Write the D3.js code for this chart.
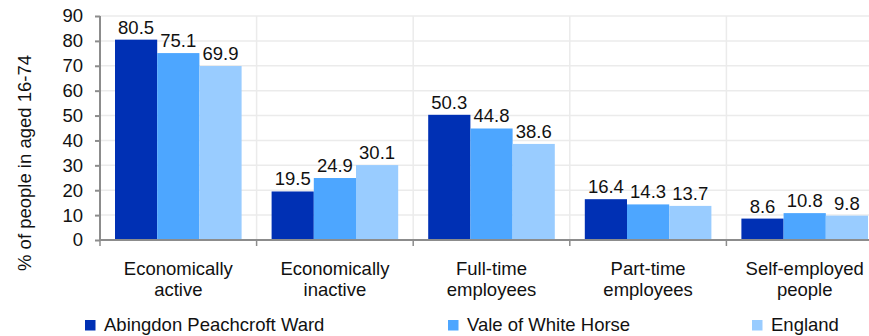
<!DOCTYPE html>
<html><head><meta charset="utf-8">
<script src="https://cdn.jsdelivr.net/npm/d3@7"></script>
<style>body{margin:0;background:#fff}svg{display:block;font-family:"Liberation Sans",Arial,sans-serif}</style>
</head><body><svg id="c" width="869" height="336"></svg>
<script>
const categories = [["Economically","active"],["Economically","inactive"],["Full-time","employees"],["Part-time","employees"],["Self-employed","people"]];
const seriesNames = ["Abingdon Peachcroft Ward","Vale of White Horse","England"];
const abingdon = [80.5,19.5,50.3,16.4,8.6];
const vale = [75.1,24.9,44.8,14.3,10.8];
const england = [69.9,30.1,38.6,13.7,9.8];
const yTicks = [0,10,20,30,40,50,60,70,80,90];
const colors = ["#0030b4","#4da6ff","#99ccff"];
const yTitle = "% of people in aged 16-74";

const svg = d3.select("#c");
const FS = "18.5px";
const catKeys = categories.map((d,i)=>i);
const x0 = d3.scaleBand().domain(catKeys).range([100,883]);
const x1 = d3.scaleBand().domain(seriesNames).range([15, x0.bandwidth()-15]);
const y = d3.scaleLinear().domain([0,90]).range([240,16]);
const values = [abingdon, vale, england];

// gridlines
const grid = svg.append("g");
yTicks.filter(t=>t>0).forEach(t=>{
  grid.append("line").attr("x1",100).attr("x2",883).attr("y1",y(t)).attr("y2",y(t)).attr("stroke","#ebebeb").attr("stroke-width",1.5);
});
catKeys.slice(1).concat([null]).forEach(k=>{
  const xx = k===null ? 883 : x0(k);
  grid.append("line").attr("x1",xx).attr("x2",xx).attr("y1",y(90)).attr("y2",y(0)).attr("stroke","#ebebeb").attr("stroke-width",1.5);
});

// bars
seriesNames.forEach((s,si)=>{
  const g = svg.append("g");
  g.selectAll("rect").data(values[si]).join("rect")
    .attr("x",(d,i)=>x0(i)+x1(s)).attr("width",x1.bandwidth())
    .attr("y",d=>y(d)).attr("height",d=>y(0)-y(d)).attr("fill",colors[si]);
  g.selectAll("text").data(values[si]).join("text")
    .attr("x",(d,i)=>x0(i)+x1(s)+x1.bandwidth()/2).attr("y",d=>y(d)-6)
    .attr("text-anchor","middle").attr("font-size",FS).attr("fill","#111")
    .text(d=>d.toFixed(1));
});

// y axis
const ya = svg.append("g").attr("transform","translate(100,0)")
  .call(d3.axisLeft(y).tickValues(yTicks).tickSize(5).tickPadding(12).tickFormat(d3.format("d")));
ya.select(".domain").attr("stroke","#8c8c8c").attr("stroke-width",2).attr("d","M0,"+y(90)+"V"+y(0));
ya.selectAll(".tick line").attr("stroke","#8c8c8c").attr("stroke-width",2);
ya.selectAll(".tick text").attr("font-size",FS).attr("font-family","Liberation Sans, Arial, sans-serif").attr("fill","#111");

// x axis
const xa = svg.append("g");
xa.append("line").attr("x1",100).attr("x2",883).attr("y1",y(0)).attr("y2",y(0)).attr("stroke","#8c8c8c").attr("stroke-width",2);
catKeys.concat([null]).forEach(k=>{
  const xx = k===null ? 883 : x0(k);
  xa.append("line").attr("x1",xx).attr("x2",xx).attr("y1",y(0)).attr("y2",y(0)+6).attr("stroke","#8c8c8c").attr("stroke-width",1.5);
});
categories.forEach((lines,i)=>{
  const t = xa.append("text").attr("text-anchor","middle").attr("font-size",FS).attr("fill","#111");
  lines.forEach((ln,j)=>{
    t.append("tspan").attr("x",x0(i)+x0.bandwidth()/2).attr("y",275+j*21).text(ln);
  });
});

// y title
svg.append("text").attr("transform","translate(31,163) rotate(-90)").attr("text-anchor","middle")
  .attr("font-size",FS).attr("fill","#111").text(yTitle);

// legend
const legX = [85,448,752];
seriesNames.forEach((s,i)=>{
  svg.append("rect").attr("x",legX[i]).attr("y",320).attr("width",10.5).attr("height",10.5).attr("fill",colors[i]);
  svg.append("text").attr("x",legX[i]+19).attr("y",330.5).attr("font-size",FS).attr("fill","#111").text(s);
});
</script></body></html>
